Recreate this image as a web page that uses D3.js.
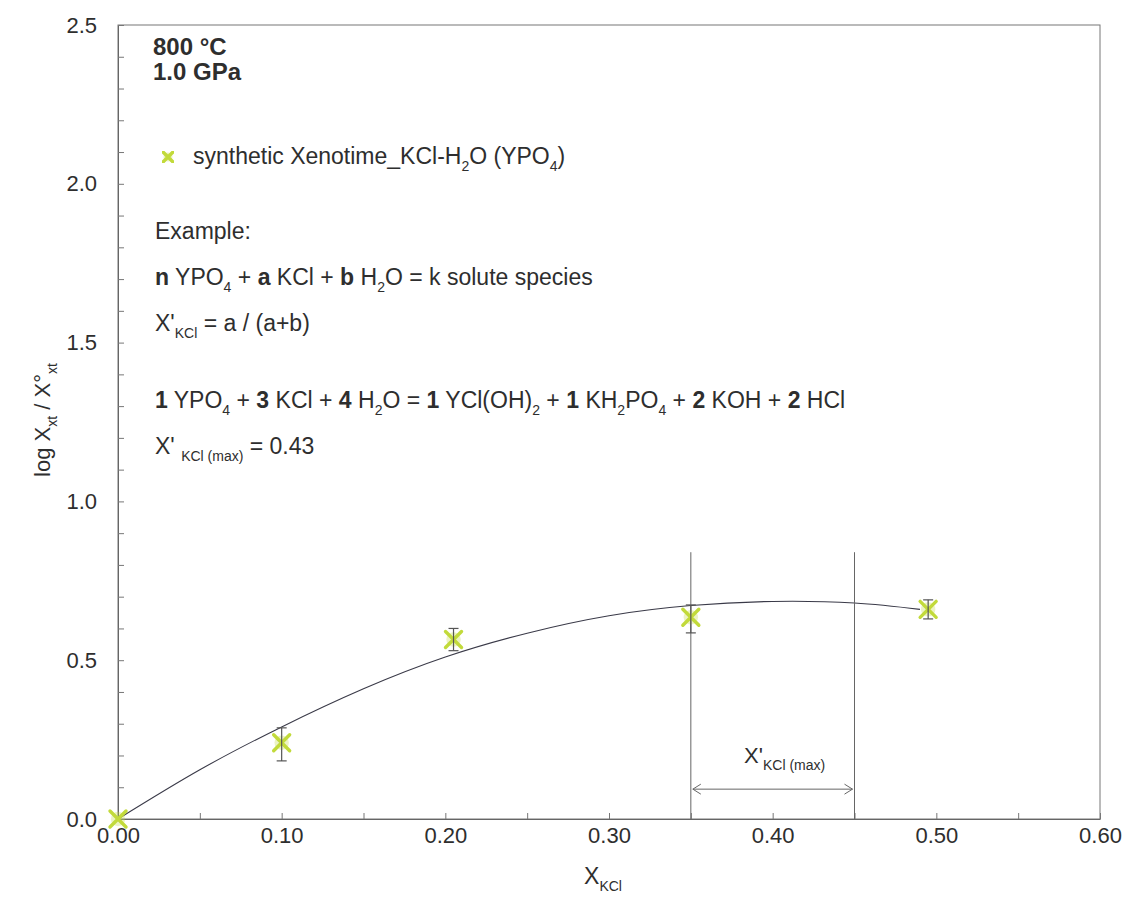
<!DOCTYPE html>
<html>
<head>
<meta charset="utf-8">
<script src="https://cdn.jsdelivr.net/npm/d3@7"></script>
<style>
  body { margin: 0; background: #fff; }
  svg { font-family: Arial, "Liberation Sans", sans-serif; }
</style>
</head>
<body>
<svg id="chart" width="1133" height="907"></svg>
<script>
// measured points (X_KCl, log X/X°) with error bars
let xKCl = [0, 0.10, 0.205, 0.35, 0.495];
let logRatio = [0, 0.24, 0.565, 0.635, 0.66];
let errLow = [0, 0.183, 0.53, 0.586, 0.63];
let errHigh = [0, 0.287, 0.60, 0.674, 0.69];

// fitted curve
let curveX = [0, 0.05, 0.10, 0.15, 0.20, 0.25, 0.30, 0.35, 0.40, 0.45, 0.49];
let curveY = [0, 0.155, 0.29, 0.41, 0.51, 0.585, 0.64, 0.672, 0.685, 0.68, 0.66];

// X'KCl(max) window
let maxWindow = [0.35, 0.45];
let windowTop = 0.84;
let arrowLevel = 0.094;

let plotLeft = 118, plotRight = 1100, plotTop = 25, plotBottom = 819;
let svg = d3.select("#chart");
let markerColor = "#c2da3a";
let textColor = "#2e2e2e";

let x = d3.scaleLinear().domain([0, 0.6]).range([plotLeft, plotRight]);
let y = d3.scaleLinear().domain([0, 2.5]).range([plotBottom, plotTop]);

let defs = svg.append("defs");
defs.append("filter").attr("id", "soft")
    .append("feGaussianBlur").attr("stdDeviation", 0.7);

// frame
svg.append("rect")
    .attr("x", plotLeft).attr("y", plotTop)
    .attr("width", plotRight - plotLeft).attr("height", plotBottom - plotTop)
    .attr("fill", "none").attr("stroke", "#777").attr("stroke-width", 1);

let xAxis = d3.axisBottom(x)
    .tickValues(d3.range(0, 0.6001, 0.05))
    .tickSizeInner(-6).tickSizeOuter(0).tickPadding(8)
    .tickFormat(function (d) {
        let r = Math.round(d * 100);
        return r % 10 === 0 ? d3.format(".2f")(d) : "";
    });

let yAxis = d3.axisLeft(y)
    .tickValues(d3.range(0, 2.5001, 0.1))
    .tickSizeInner(-6).tickSizeOuter(0).tickPadding(21)
    .tickFormat(function (d) {
        let r = Math.round(d * 10);
        return r % 5 === 0 ? d3.format(".1f")(d) : "";
    });

let gx = svg.append("g").attr("transform", "translate(0," + plotBottom + ")").call(xAxis);
let gy = svg.append("g").attr("transform", "translate(" + plotLeft + ",0)").call(yAxis);
[gx, gy].forEach(function (g) {
    g.select(".domain").attr("stroke", "#666");
    g.selectAll(".tick line").attr("stroke", "#777");
    g.selectAll(".tick text").attr("fill", textColor).style("font-size", "22px");
});
// drop empty minor labels
svg.selectAll(".tick text").filter(function () { return this.textContent === ""; }).remove();

// rich text helper: segments of [text, kind], kind "b" bold or "sub" subscript
function rich(parent, px, py, size, segs, anchor) {
    let t = parent.append("text")
        .attr("x", px).attr("y", py)
        .attr("fill", textColor)
        .style("font-size", size + "px")
        .attr("text-anchor", anchor || "start");
    let shift = 0;
    segs.forEach(function (s) {
        let kind = s[1] || "";
        let sp = t.append("tspan").text(s[0]);
        if (kind === "b") sp.attr("font-weight", "bold");
        if (kind === "sub") {
            sp.style("font-size", Math.round(size * 0.62) + "px").attr("dy", size * 0.3 - shift);
            shift = size * 0.3;
        } else if (shift !== 0) {
            sp.attr("dy", -shift);
            shift = 0;
        }
    });
    return t;
}

// fitted curve
let line = d3.line()
    .x(function (d) { return x(d[0]); })
    .y(function (d) { return y(d[1]); })
    .curve(d3.curveNatural);
svg.append("path")
    .datum(d3.zip(curveX, curveY))
    .attr("d", line)
    .attr("fill", "none").attr("stroke", "#3a3a48").attr("stroke-width", 1.1);

// X'KCl(max) window lines
svg.selectAll(".win").data(maxWindow).enter().append("line")
    .attr("x1", function (d) { return x(d); }).attr("x2", function (d) { return x(d); })
    .attr("y1", y(windowTop)).attr("y2", y(0))
    .attr("stroke", "#666").attr("stroke-width", 1);

let ay = y(arrowLevel);
svg.append("line")
    .attr("x1", x(maxWindow[0]) + 2).attr("x2", x(maxWindow[1]) - 2)
    .attr("y1", ay).attr("y2", ay)
    .attr("stroke", "#666").attr("stroke-width", 1);
svg.append("path")
    .attr("d", "M" + (x(maxWindow[0]) + 10) + "," + (ay - 5) + " L" + (x(maxWindow[0]) + 2) + "," + ay +
        " L" + (x(maxWindow[0]) + 10) + "," + (ay + 5) +
        " M" + (x(maxWindow[1]) - 10) + "," + (ay - 5) + " L" + (x(maxWindow[1]) - 2) + "," + ay +
        " L" + (x(maxWindow[1]) - 10) + "," + (ay + 5))
    .attr("fill", "none").attr("stroke", "#666").attr("stroke-width", 1);
rich(svg, (x(maxWindow[0]) + x(maxWindow[1])) / 2 + 12, ay - 26, 22,
    [["X'"], ["KCl (max)", "sub"]], "middle");

// error bars
let pts = xKCl.map(function (d, i) {
    return { x: d, y: logRatio[i], lo: errLow[i], hi: errHigh[i] };
});

// markers
function cross(g, s) {
    g.append("path")
        .attr("d", "M" + (-s) + "," + (-s) + "L" + s + "," + s + "M" + (-s) + "," + s + "L" + s + "," + (-s))
        .attr("stroke", markerColor).attr("stroke-width", 3.4).attr("stroke-linecap", "round")
        .attr("fill", "none").attr("filter", "url(#soft)");
    g.append("circle").attr("r", s * 0.9).attr("fill", markerColor).attr("opacity", 0.3)
        .attr("filter", "url(#soft)");
}
svg.selectAll(".pt").data(pts).enter().append("g")
    .attr("transform", function (d) { return "translate(" + x(d.x) + "," + y(d.y) + ")"; })
    .each(function () { cross(d3.select(this), 8); });

let bars = svg.selectAll(".err").data(pts.filter(function (d) { return d.hi > d.lo; }))
    .enter().append("g").attr("stroke", "#555").attr("stroke-width", 1.2);
bars.append("line")
    .attr("x1", function (d) { return x(d.x); }).attr("x2", function (d) { return x(d.x); })
    .attr("y1", function (d) { return y(d.lo); }).attr("y2", function (d) { return y(d.hi); });
["lo", "hi"].forEach(function (k) {
    bars.append("line")
        .attr("x1", function (d) { return x(d.x) - 5; }).attr("x2", function (d) { return x(d.x) + 5; })
        .attr("y1", function (d) { return y(d[k]); }).attr("y2", function (d) { return y(d[k]); });
});

// annotation text
rich(svg, 153, 55, 24, [["800 °C", "b"]]);
rich(svg, 153, 80, 24, [["1.0 GPa", "b"]]);

let lg = svg.append("g").attr("transform", "translate(168,157)");
cross(lg, 5);
rich(svg, 193, 164, 23, [["synthetic Xenotime_KCl-H"], ["2", "sub"], ["O (YPO"], ["4", "sub"], [")"]]);

rich(svg, 155, 239, 23, [["Example:"]]);
rich(svg, 155, 285, 23, [["n", "b"], [" YPO"], ["4", "sub"], [" + "], ["a", "b"], [" KCl + "], ["b", "b"],
    [" H"], ["2", "sub"], ["O = k solute species"]]);
rich(svg, 155, 331, 23, [["X'"], ["KCl", "sub"], [" = a / (a+b)"]]);
rich(svg, 155, 408, 23, [["1", "b"], [" YPO"], ["4", "sub"], [" + "], ["3", "b"], [" KCl + "], ["4", "b"],
    [" H"], ["2", "sub"], ["O = "], ["1", "b"], [" YCl(OH)"], ["2", "sub"], [" + "], ["1", "b"],
    [" KH"], ["2", "sub"], ["PO"], ["4", "sub"], [" + "], ["2", "b"], [" KOH + "], ["2", "b"], [" HCl"]]);
rich(svg, 155, 454, 23, [["X' "], ["KCl (max)", "sub"], [" = 0.43"]]);

// axis titles
rich(svg, 603, 884, 23, [["X"], ["KCl", "sub"]], "middle");
let yl = svg.append("g").attr("transform", "translate(50,420) rotate(-90)");
rich(yl, 0, 0, 22, [["log X"], ["xt", "sub"], [" / X°"], ["xt", "sub"]], "middle");
</script>
</body>
</html>
